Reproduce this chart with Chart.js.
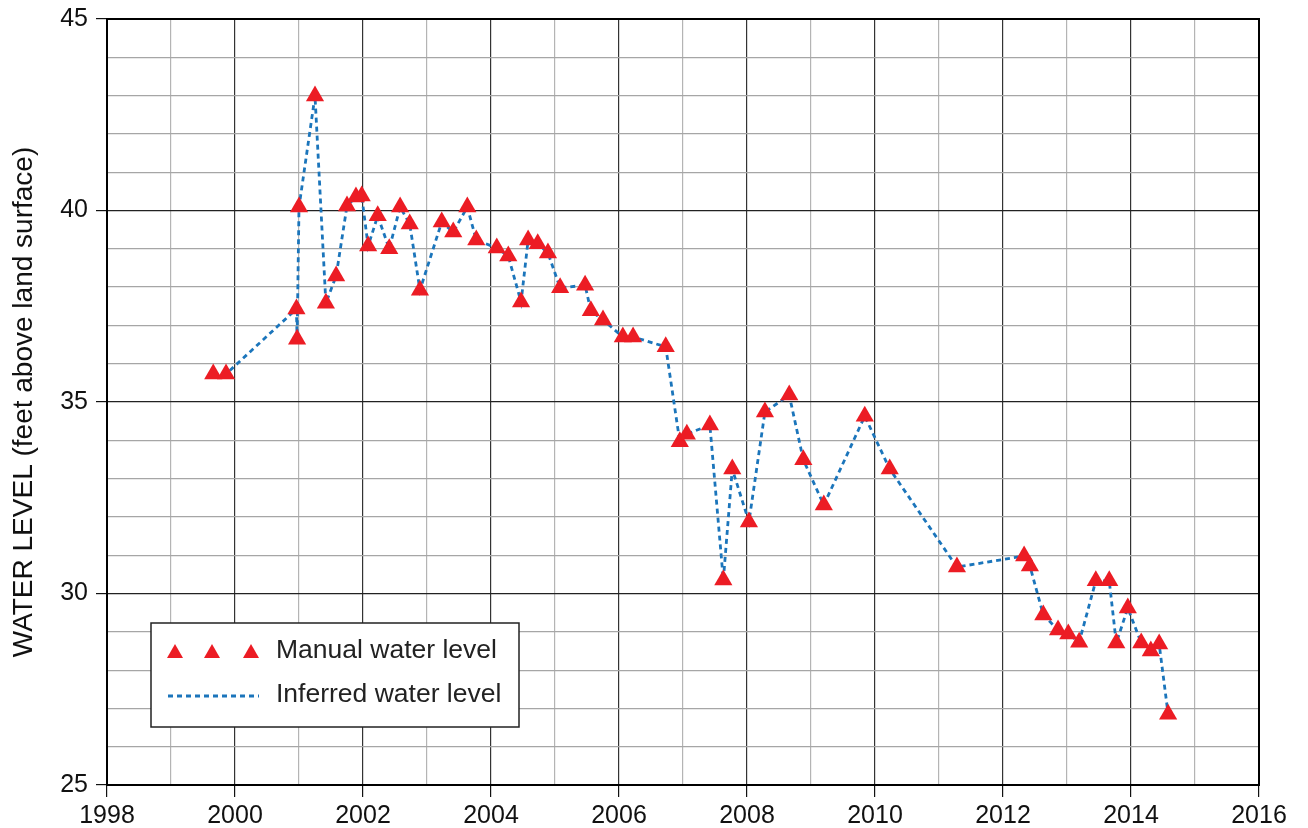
<!DOCTYPE html>
<html>
<head>
<meta charset="utf-8">
<script src="https://cdn.jsdelivr.net/npm/chart.js@4/dist/chart.umd.min.js"></script>
<style>
  html, body { margin: 0; padding: 0; background: #fff; }
  #wrap { width: 1308px; height: 828px; position: relative; }
</style>
</head>
<body>
<div id="wrap"><canvas id="chart"></canvas></div>
<script>
// decimal year of each measurement
const years = [
  1999.66, 1999.86, 2000.96, 2000.97, 2001.0, 2001.25, 2001.42, 2001.58, 2001.75, 2001.89,
  2001.98, 2002.08, 2002.23, 2002.41, 2002.58, 2002.73, 2002.89, 2003.23, 2003.41, 2003.63,
  2003.77, 2004.09, 2004.27, 2004.47, 2004.58, 2004.73, 2004.89, 2005.08, 2005.47, 2005.56,
  2005.75, 2006.06, 2006.22, 2006.73, 2006.95, 2007.06, 2007.42, 2007.63, 2007.77, 2008.03,
  2008.28, 2008.66, 2008.88, 2009.2, 2009.84, 2010.23, 2011.28, 2012.33, 2012.42, 2012.63,
  2012.86, 2013.02, 2013.19, 2013.45, 2013.66, 2013.77, 2013.95, 2014.16, 2014.31, 2014.44,
  2014.58
];
// water level, feet above land surface
const levels = [
  35.73, 35.73, 37.43, 36.64, 40.09, 42.99, 37.58, 38.29, 40.12, 40.35,
  40.38, 39.07, 39.86, 39.0, 40.09, 39.65, 37.92, 39.7, 39.44, 40.09,
  39.23, 39.02, 38.81, 37.61, 39.23, 39.13, 38.89, 37.98, 38.05, 37.38,
  37.14, 36.7, 36.7, 36.44, 33.96, 34.16, 34.4, 30.35, 33.25, 31.87,
  34.74, 35.18, 33.49, 32.31, 34.63, 33.25, 30.69, 30.98, 30.72, 29.44,
  29.05, 28.94, 28.73, 30.33, 30.33, 28.71, 29.62, 28.71, 28.5, 28.68,
  26.85
];
const xTicks = [1998, 2000, 2002, 2004, 2006, 2008, 2010, 2012, 2014, 2016];
const yTicks = [25, 30, 35, 40, 45];
const legendLabels = ['Manual water level', 'Inferred water level'];

const RED = '#ec1c24';
const BLUE = '#1b75bb';
const FONT = 'Liberation Sans, Arial, Helvetica, sans-serif';

const points = years.map((y, i) => ({ x: y, y: levels[i] }));

// rahmen + legende im diagramm
const frameAndLegend = {
  id: 'frameAndLegend',
  afterDraw(chart) {
    const ctx = chart.ctx;
    const a = chart.chartArea;
    ctx.save();
    ctx.strokeStyle = '#000';
    ctx.lineWidth = 2;
    ctx.strokeRect(a.left, a.top, a.right - a.left, a.bottom - a.top);

    // legendenbox
    const bx = a.left + 44, by = a.bottom - 162, bw = 368, bh = 104;
    ctx.fillStyle = '#fff';
    ctx.fillRect(bx, by, bw, bh);
    ctx.lineWidth = 1.5;
    ctx.strokeStyle = '#222';
    ctx.strokeRect(bx, by, bw, bh);

    const row1 = by + 29, row2 = by + 73;
    [bx + 24, bx + 61, bx + 100].forEach(cx => {
      ctx.beginPath();
      ctx.moveTo(cx, row1 - 8);
      ctx.lineTo(cx + 8, row1 + 6);
      ctx.lineTo(cx - 8, row1 + 6);
      ctx.closePath();
      ctx.fillStyle = RED;
      ctx.fill();
    });
    ctx.beginPath();
    ctx.setLineDash([5, 4]);
    ctx.strokeStyle = BLUE;
    ctx.lineWidth = 2.8;
    ctx.moveTo(bx + 17, row2);
    ctx.lineTo(bx + 108, row2);
    ctx.stroke();
    ctx.setLineDash([]);

    ctx.fillStyle = '#222';
    ctx.font = '26.5px ' + FONT;
    ctx.textBaseline = 'middle';
    ctx.textAlign = 'left';
    ctx.fillText(legendLabels[0], bx + 125, row1 - 1);
    ctx.fillText(legendLabels[1], bx + 125, row2 - 1);
    ctx.restore();
  }
};

new Chart(document.getElementById('chart'), {
  type: 'scatter',
  data: {
    datasets: [
      {
        label: legendLabels[0],
        data: points,
        showLine: false,
        pointStyle: 'triangle',
        pointRadius: 10.5,
        pointBackgroundColor: RED,
        pointBorderColor: RED,
        pointBorderWidth: 0
      },
      {
        label: legendLabels[1],
        data: points,
        showLine: true,
        borderColor: BLUE,
        borderWidth: 2.8,
        borderDash: [5, 4],
        pointRadius: 0,
        tension: 0
      }
    ]
  },
  options: {
    responsive: true,
    maintainAspectRatio: false,
    animation: false,
    layout: { padding: { top: 19, right: 49, left: 0, bottom: 0 } },
    plugins: {
      legend: { display: false },
      tooltip: { enabled: false }
    },
    scales: {
      x: {
        type: 'linear',
        min: 1998,
        max: 2016,
        afterFit: s => { s.height = 43; },
        afterBuildTicks: s => {
          s.ticks = [];
          for (let v = 1998; v <= 2016; v++) s.ticks.push({ value: v });
        },
        ticks: {
          autoSkip: false,
          maxRotation: 0,
          padding: 4,
          color: '#111',
          font: { family: FONT, size: 25 },
          callback: v => xTicks.includes(v) ? String(v) : ''
        },
        grid: {
          color: c => (c.tick && xTicks.includes(c.tick.value)) ? '#333' : '#b4b4b4',
          tickColor: c => (c.tick && xTicks.includes(c.tick.value)) ? '#111' : 'rgba(0,0,0,0)',
          tickLength: 12,
          lineWidth: 1.2
        },
        border: { color: '#000', width: 2 }
      },
      y: {
        min: 25,
        max: 45,
        afterFit: s => { s.width = 107; s.paddingTop = 0; s.paddingBottom = 0; },
        afterBuildTicks: s => {
          s.ticks = [];
          for (let v = 25; v <= 45; v++) s.ticks.push({ value: v });
        },
        ticks: {
          autoSkip: false,
          padding: 8,
          color: '#111',
          font: { family: FONT, size: 25, lineHeight: 1 },
          callback: v => yTicks.includes(v) ? String(v) : ''
        },
        grid: {
          color: c => (c.tick && yTicks.includes(c.tick.value)) ? '#222' : '#a6a6a6',
          tickColor: c => (c.tick && yTicks.includes(c.tick.value)) ? '#111' : 'rgba(0,0,0,0)',
          tickLength: 11,
          lineWidth: 1.2
        },
        border: { color: '#000', width: 2 },
        title: {
          display: true,
          text: 'WATER LEVEL (feet above land surface)',
          color: '#111',
          font: { family: FONT, size: 28 },
          padding: { top: 7, bottom: 0 }
        }
      }
    }
  },
  plugins: [frameAndLegend]
});
</script>
</body>
</html>
